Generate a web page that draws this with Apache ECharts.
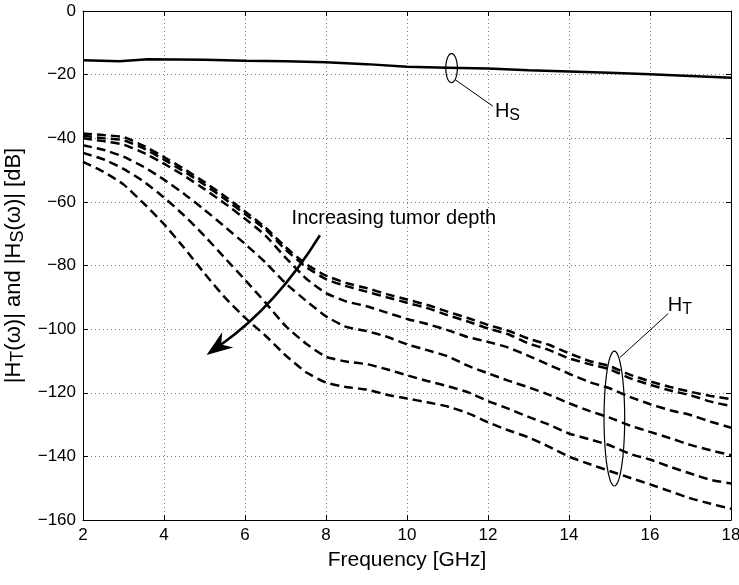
<!DOCTYPE html>
<html>
<head>
<meta charset="utf-8">
<script src="https://cdn.jsdelivr.net/npm/echarts@6/dist/echarts.min.js"></script>
<style>
html, body { margin: 0; padding: 0; background: #fff; }
#chart { width: 739px; height: 585px; }
</style>
</head>
<body>
<div id="chart"></div>
<script>
// frequency grid (GHz) for the tumor curves
const freq = [2, 2.5, 3, 3.5, 4, 4.5, 5, 5.5, 6, 6.5, 7, 7.5, 8, 8.5, 9, 9.5, 10,
  10.5, 11, 11.5, 12, 12.5, 13, 13.5, 14, 14.5, 15, 15.5, 16, 16.5, 17, 17.5, 18];

// |H_T| for increasing tumor depth (dB)
const ht1 = [-38.5, -39.0, -39.6, -42.4, -45.9, -49.7, -53.8, -58.2, -63.0, -68.0, -74.2, -79.5, -83.2,
  -85.5, -87.1, -89.0, -90.7, -92.4, -94.5, -96.5, -98.7, -100.5, -103.0, -104.9, -107.6, -110.0,
  -111.6, -114.3, -116.4, -118.2, -119.7, -121.0, -122.0];
const ht2 = [-39.2, -40.0, -40.6, -43.2, -46.7, -50.5, -54.6, -59.1, -63.8, -68.6, -75.0, -80.4, -84.3,
  -86.5, -88.2, -90.0, -91.7, -93.4, -95.6, -97.6, -99.8, -101.6, -104.5, -106.5, -109.2, -111.0,
  -112.6, -115.4, -117.5, -119.3, -120.8, -122.8, -124.2];
const ht3 = [-40.0, -40.9, -42.0, -44.6, -48.0, -51.8, -56.0, -60.5, -65.3, -70.5, -77.5, -84.0, -88.7,
  -91.3, -92.8, -94.8, -96.8, -98.4, -100.3, -102.5, -104.0, -105.8, -108.4, -111.2, -114.0, -116.6,
  -118.6, -121.3, -123.6, -125.5, -127.0, -129.1, -131.0];
const ht4 = [-42.2, -43.6, -45.8, -49.0, -53.0, -57.5, -62.5, -67.8, -73.2, -79.0, -85.6, -91.0, -96.0,
  -99.3, -100.6, -102.4, -104.8, -106.6, -108.5, -111.5, -113.9, -116.2, -118.3, -120.6, -123.3, -125.7,
  -127.8, -130.3, -132.3, -134.3, -136.4, -138.1, -139.6];
const ht5 = [-44.6, -46.6, -49.6, -53.6, -58.6, -64.3, -70.7, -77.6, -84.5, -91.6, -99.0, -104.5, -108.7,
  -110.2, -111.0, -112.6, -114.5, -116.3, -117.9, -119.8, -122.6, -125.0, -127.6, -130.0, -132.8, -134.6,
  -136.5, -139.2, -141.0, -143.3, -145.4, -147.4, -148.5];
const ht6 = [-47.4, -50.5, -54.5, -60.5, -67.0, -74.5, -82.5, -90.0, -96.4, -102.0, -108.2, -113.5, -116.8,
  -118.2, -119.0, -120.6, -121.8, -123.0, -124.3, -126.4, -129.3, -131.8, -134.0, -136.9, -140.1, -142.4,
  -144.6, -146.7, -148.8, -151.0, -153.2, -154.9, -156.5];

// |H_S| (dB)
const hsFreq = [2, 2.9, 3.6, 5, 6, 7, 8, 9, 10, 11, 12, 13, 14, 15, 16, 17, 18];
const hsDb = [-15.5, -15.8, -15.2, -15.3, -15.6, -15.8, -16.1, -16.7, -17.5, -17.8, -18.1, -18.6,
  -19.0, -19.4, -19.9, -20.4, -21.0];

// axis ranges
const xRange = [2, 18, 2];
const yRange = [-160, 0, 20];

// annotations in data units: ellipse [cx, cy, rx, ry], leader [x1, y1, x2, y2], label anchor [x, y]
const hsEllipse = [11.1, -17.95, 0.143, 4.55];
const hsLeader = [11.19, -21.6, 12.12, -29.9];
const hsLabelAt = [12.17, -28.4];
const htEllipse = [15.12, -128.1, 0.255, 21.2];
const htLeader = [15.26, -108.9, 16.45, -95.1];
const htLabelAt = [16.44, -89.5];
const arrowFrom = [7.85, -70.5];
const arrowCtrl = [6.78, -92.5];
const arrowTo = [5.05, -108.1];
const arrowText = 'Increasing tumor depth';
const arrowTextAt = [7.15, -62.0];

const FONT = 'Liberation Sans';
const chart = echarts.init(document.getElementById('chart'));

const minus = v => String(v).replace('-', '\u2212');
const subRich = {
  n: { fontFamily: FONT, fontSize: 20, lineHeight: 22, verticalAlign: 'top', color: '#000' },
  s: { fontFamily: FONT, fontSize: 16, lineHeight: 17, verticalAlign: 'bottom', padding: [14, 0, 0, 0], color: '#000' }
};
const nameRich = {
  n: { fontFamily: FONT, fontSize: 22, lineHeight: 24, verticalAlign: 'top', color: '#000' },
  s: { fontFamily: FONT, fontSize: 18, lineHeight: 19, verticalAlign: 'bottom', padding: [13, 0, 0, 0], color: '#000' }
};

const boxAxis = (extra) => Object.assign({
  axisLine: { show: true, onZero: false, lineStyle: { color: '#000', width: 1 } },
  axisTick: { show: true, inside: true, length: 5, lineStyle: { color: '#000' } },
}, extra);

const dashStyle = { color: '#000', width: 2.5, type: [9, 5] };
const htCurves = [ht1, ht2, ht3, ht4, ht5, ht6];

chart.setOption({
  animation: false,
  grid: { left: 83, right: 8, top: 11, bottom: 65, outerBoundsMode: 'none', containLabel: false },
  xAxis: [
    boxAxis({
      type: 'value', min: xRange[0], max: xRange[1], interval: xRange[2], position: 'bottom',
      axisLabel: { color: '#000', fontFamily: FONT, fontSize: 17, margin: 7 },
      splitLine: { show: true, lineStyle: { color: '#777', type: [1, 3] } },
      name: 'Frequency [GHz]', nameLocation: 'middle', nameGap: 30,
      nameTextStyle: { color: '#000', fontFamily: FONT, fontSize: 21 }
    }),
    boxAxis({
      type: 'value', min: xRange[0], max: xRange[1], interval: xRange[2], position: 'top',
      axisLabel: { show: false }, splitLine: { show: false }
    })
  ],
  yAxis: [
    boxAxis({
      type: 'value', min: yRange[0], max: yRange[1], interval: yRange[2], position: 'left',
      axisLabel: { color: '#000', fontFamily: FONT, fontSize: 17, margin: 7, formatter: minus },
      splitLine: { show: true, lineStyle: { color: '#777', type: [1, 3] } },
      name: '{n||H}{s|T}{n|(ω)| and |H}{s|S}{n|(ω)| [dB]}', nameLocation: 'middle', nameGap: 27, nameRotate: 90,
      nameTextStyle: { color: '#000', fontFamily: FONT, fontSize: 22, rich: nameRich }
    }),
    boxAxis({
      type: 'value', min: yRange[0], max: yRange[1], interval: yRange[2], position: 'right',
      axisLabel: { show: false }, splitLine: { show: false }
    })
  ],
  series: [
    {
      type: 'line', symbol: 'none', silent: true,
      data: hsFreq.map((f, i) => [f, hsDb[i]]),
      lineStyle: { color: '#000', width: 2.5 }
    },
    ...htCurves.map(c => ({
      type: 'line', symbol: 'none', silent: true, smooth: 0.15,
      data: freq.map((f, i) => [f, c[i]]),
      lineStyle: dashStyle
    }))
  ]
});

// annotations, placed through the axes' scales
const px = p => chart.convertToPixel({ xAxisIndex: 0, yAxisIndex: 0 }, p);

function ellipse(e) {
  const pts = [];
  for (let k = 0; k <= 72; k++) {
    const t = k / 72 * Math.PI * 2;
    pts.push(px([e[0] + e[2] * Math.cos(t), e[1] + e[3] * Math.sin(t)]));
  }
  return { type: 'polyline', shape: { points: pts }, style: { stroke: '#000', lineWidth: 1.2, fill: null }, silent: true };
}

function leader(l) {
  const a = px([l[0], l[1]]), b = px([l[2], l[3]]);
  return { type: 'line', shape: { x1: a[0], y1: a[1], x2: b[0], y2: b[1] }, style: { stroke: '#000', lineWidth: 1 }, silent: true };
}

function subLabel(at, main, sub) {
  const p = px(at);
  return {
    type: 'text', x: p[0], y: p[1], silent: true,
    style: { text: '{n|' + main + '}{s|' + sub + '}', rich: subRich, align: 'left', verticalAlign: 'top' }
  };
}

// curved arrow with a stealth head
const p0 = px(arrowFrom), pc = px(arrowCtrl), p1 = px(arrowTo);
let dx = p1[0] - pc[0], dy = p1[1] - pc[1];
const len = Math.hypot(dx, dy); dx /= len; dy /= len;
const headLen = 26, headHalf = 9.5, notch = 18;
const base = [p1[0] - dx * headLen, p1[1] - dy * headLen];
const inner = [p1[0] - dx * notch, p1[1] - dy * notch];
const head = [p1, [base[0] - dy * headHalf, base[1] + dx * headHalf], inner, [base[0] + dy * headHalf, base[1] - dx * headHalf]];
const txt = px(arrowTextAt);

chart.setOption({
  graphic: [
    ellipse(hsEllipse), leader(hsLeader), subLabel(hsLabelAt, 'H', 'S'),
    ellipse(htEllipse), leader(htLeader), subLabel(htLabelAt, 'H', 'T'),
    {
      type: 'bezierCurve', silent: true,
      shape: { x1: p0[0], y1: p0[1], cpx1: pc[0], cpy1: pc[1], x2: inner[0], y2: inner[1] },
      style: { stroke: '#000', lineWidth: 2.5, fill: null }
    },
    { type: 'polygon', silent: true, shape: { points: head }, style: { fill: '#000' } },
    {
      type: 'text', x: txt[0], y: txt[1], silent: true,
      style: { text: arrowText, fontFamily: FONT, fontSize: 20, fill: '#000', align: 'left', verticalAlign: 'top' }
    }
  ]
});
</script>
</body>
</html>
